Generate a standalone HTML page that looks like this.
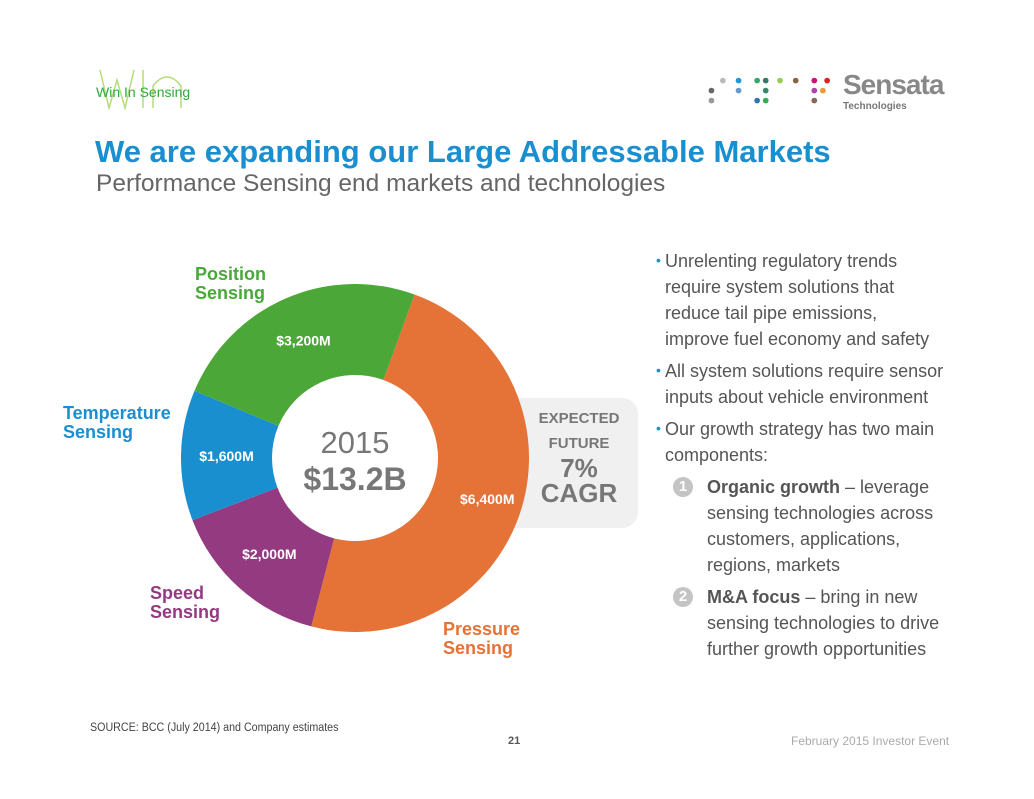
<!DOCTYPE html>
<html><head><meta charset="utf-8">
<style>
body{margin:0;width:1034px;height:799px;background:#fff;position:relative;overflow:hidden;font-family:"Liberation Sans",sans-serif}
.a{position:absolute;white-space:nowrap}
.l{position:absolute;white-space:nowrap;font-size:18px;line-height:22px;color:#555;left:665px}
.s{left:707px}
.dot{position:absolute;left:656px;color:#1a8fd0;font-size:14px}
.num{position:absolute;left:673px;width:20px;height:20px;border-radius:50%;background:#c4c4c4;color:#fff;font-weight:bold;font-size:15px;text-align:center;line-height:20px}
.lab{position:absolute;font-weight:bold;font-size:18px;line-height:19px}
</style></head><body>
<div class="a" style="left:95px;top:68px;width:100px;height:40px">
<svg width="100" height="42" style="position:absolute;left:0;top:0"><path d="M5 2 L14 40 L22 12 L30 40 L39 2 M48 2 V40 M58 40 V18 Q72 0 86 18 V40" fill="none" stroke="#b6dc7a" stroke-width="1.5"/></svg>
<span class="a" style="left:1px;top:16px;font-size:14px;color:#2faa3a">Win In Sensing</span></div>
<div class="a" style="left:705px;top:72px;width:240px;height:44px">
<svg width="130" height="40" viewBox="0 0 90 28" style="position:absolute;left:0;top:0">
<g><circle cx="4" cy="13" r="2" fill="#666"/><circle cx="4" cy="20" r="2" fill="#999"/><circle cx="12" cy="6" r="2" fill="#bbb"/><circle cx="23" cy="6" r="2" fill="#1a9ad6"/><circle cx="23" cy="13" r="2" fill="#6699cc"/><circle cx="36" cy="6" r="2" fill="#3a6"/><circle cx="42" cy="6" r="2" fill="#376"/><circle cx="42" cy="13" r="2" fill="#386"/><circle cx="36" cy="20" r="2" fill="#37a"/><circle cx="42" cy="20" r="2" fill="#3a5"/><circle cx="52" cy="6" r="2" fill="#9c5"/><circle cx="63" cy="6" r="2" fill="#864"/><circle cx="76" cy="6" r="2" fill="#c17"/><circle cx="85" cy="6" r="2" fill="#d22"/><circle cx="76" cy="13" r="2" fill="#a4a"/><circle cx="82" cy="13" r="2" fill="#e93"/><circle cx="76" cy="20" r="2" fill="#865"/></g></svg>
<span class="a" style="left:138px;top:-3px;font-size:28px;color:#888;font-weight:bold;letter-spacing:-1px">Sensata</span>
<span class="a" style="left:138px;top:29px;font-size:10px;color:#777;font-weight:bold">Technologies</span></div>
<div class="a" style="left:95px;top:134px;font-size:31px;font-weight:bold;color:#1a8fd0">We are expanding our Large Addressable Markets</div>
<div class="a" style="left:96px;top:170px;font-size:24.5px;color:#666">Performance Sensing end markets and technologies</div>

<div class="a" style="left:500px;top:398px;width:138px;height:130px;background:#f0f0f0;border-radius:0 16px 16px 0">
<div class="a" style="left:24px;top:8px;width:110px;text-align:center;font-weight:bold;font-size:15px;color:#777;line-height:25px">EXPECTED<br>FUTURE</div>
<div class="a" style="left:24px;top:58px;width:110px;text-align:center;font-weight:bold;font-size:26px;color:#777;line-height:25px">7%<br>CAGR</div></div>

<svg id="donut" class="a" style="left:0;top:0" width="1034" height="799"></svg>

<div class="lab" style="left:195px;top:265px;color:#48a838">Position<br>Sensing</div>
<div class="lab" style="left:63px;top:404px;color:#1a8fd0">Temperature<br>Sensing</div>
<div class="lab" style="left:150px;top:584px;color:#943a80">Speed<br>Sensing</div>
<div class="lab" style="left:443px;top:620px;color:#e57236">Pressure<br>Sensing</div>

<div>
<span class="dot" style="top:252px">•</span>
<div class="l" style="top:250px">Unrelenting regulatory trends</div>
<div class="l" style="top:276px">require system solutions that</div>
<div class="l" style="top:302px">reduce tail pipe emissions,</div>
<div class="l" style="top:328px">improve fuel economy and safety</div>
<span class="dot" style="top:362px">•</span>
<div class="l" style="top:360px">All system solutions require sensor</div>
<div class="l" style="top:386px">inputs about vehicle environment</div>
<span class="dot" style="top:420px">•</span>
<div class="l" style="top:418px">Our growth strategy has two main</div>
<div class="l" style="top:444px">components:</div>
<div class="num" style="top:477px">1</div>
<div class="l s" style="top:476px"><b>Organic growth</b> – leverage</div>
<div class="l s" style="top:502px">sensing technologies across</div>
<div class="l s" style="top:528px">customers, applications,</div>
<div class="l s" style="top:554px">regions, markets</div>
<div class="num" style="top:587px">2</div>
<div class="l s" style="top:586px"><b>M&amp;A focus</b> – bring in new</div>
<div class="l s" style="top:612px">sensing technologies to drive</div>
<div class="l s" style="top:638px">further growth opportunities</div>
</div>

<div class="a" style="left:90px;top:722px;font-size:11.5px;color:#444;transform:scaleX(0.93);transform-origin:left">SOURCE: BCC (July 2014) and Company estimates</div>
<div class="a" style="left:508px;top:735px;font-size:11px;font-weight:bold;color:#555">21</div>
<div class="a" style="left:791px;top:734px;font-size:12px;color:#aaa">February 2015 Investor Event</div>

<script>
const categories=["Pressure","Speed","Temperature","Position"];
const values=[6400,2000,1600,3200];
const valueLabels=["$6,400M","$2,000M","$1,600M","$3,200M"];
const colors=["#e57236","#943a80","#1a8fd0","#4ba838"];
const cx=355,cy=458,R=174,r=83,start=20;
const svg=document.getElementById('donut');
const NS="http://www.w3.org/2000/svg";
const total=values.reduce((a,b)=>a+b,0);
function pt(deg,rad){const t=deg*Math.PI/180;return [cx+rad*Math.sin(t),cy-rad*Math.cos(t)];}
let a=start;
values.forEach((v,i)=>{
  const sw=v/total*360,b=a+sw,lg=sw>180?1:0;
  const p1=pt(a,R),p2=pt(b,R),p3=pt(b,r),p4=pt(a,r);
  const p=document.createElementNS(NS,'path');
  p.setAttribute('d',`M${p1} A${R},${R} 0 ${lg} 1 ${p2} L${p3} A${r},${r} 0 ${lg} 0 ${p4} Z`);
  p.setAttribute('fill',colors[i]);
  
  
  svg.appendChild(p);
  const m=a+sw/2,lp=pt(m,(R+r)/2+(i==0?10:0));
  const t=document.createElementNS(NS,'text');
  t.setAttribute('x',lp[0]);t.setAttribute('y',lp[1]+5);
  t.setAttribute('text-anchor','middle');t.setAttribute('fill','#fff');
  t.setAttribute('font-size','14');t.setAttribute('font-weight','bold');
  t.setAttribute('font-family','Liberation Sans, sans-serif');
  t.textContent=valueLabels[i];
  
  
  svg.appendChild(t);
  a=b;
});
const t1=document.createElementNS(NS,'text');
t1.setAttribute('x',cx);t1.setAttribute('y',453);t1.setAttribute('text-anchor','middle');
t1.setAttribute('fill','#777');t1.setAttribute('font-size','31');t1.setAttribute('font-family','Liberation Sans, sans-serif');
t1.textContent='2015';


svg.appendChild(t1);
const t2=document.createElementNS(NS,'text');
t2.setAttribute('x',cx);t2.setAttribute('y',490);t2.setAttribute('text-anchor','middle');
t2.setAttribute('fill','#777');t2.setAttribute('font-size','32');t2.setAttribute('font-weight','bold');t2.setAttribute('font-family','Liberation Sans, sans-serif');
t2.textContent='$13.2B';


svg.appendChild(t2);
</script>
</body></html>
